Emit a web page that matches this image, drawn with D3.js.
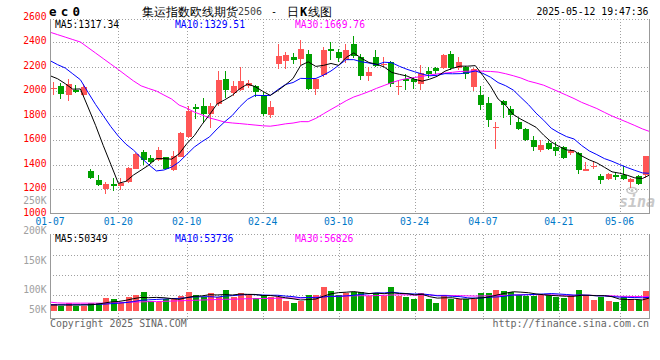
<!DOCTYPE html>
<html><head><meta charset="utf-8">
<script src="https://cdn.jsdelivr.net/npm/d3@7"></script>
<style>
html,body{margin:0;padding:0;background:#fff;}
svg{display:block;}
text{font-family:"DejaVu Sans Mono",monospace;}
</style></head><body>
<svg id="c" width="660" height="360"></svg>
<script>
const dates = ["01-07","01-08","01-09","01-10","01-13","01-14","01-15","01-16","01-17","01-20","01-21","01-22","01-23","01-24","01-27",
"02-05","02-06","02-07","02-10","02-11","02-12","02-13","02-14","02-17","02-18","02-19","02-20","02-21","02-24","02-25","02-26","02-27","02-28",
"03-03","03-04","03-05","03-06","03-07","03-10","03-11","03-12","03-13","03-14","03-17","03-18","03-19","03-20","03-21","03-24","03-25","03-26","03-27","03-28","03-31",
"04-01","04-02","04-03","04-07","04-08","04-09","04-10","04-11","04-14","04-15","04-16","04-17","04-18","04-21","04-22","04-23","04-24","04-25","04-28","04-29","04-30",
"05-06","05-07","05-08","05-09","05-12"];
const open = [2022,2043,1964,2010,1964,1344,1276,1203,1243,1222,1254,1366,1499,1453,1434,1459,1353,1459,1621,1869,1875,1815,1894,2097,1983,2005,2043,2037,1970,1807,2223,2242,2277,2261,2304,2016,2132,2340,2318,2250,2386,2277,2119,2277,2209,2237,2032,2097,2097,2056,2166,2188,2188,2302,2188,2196,2029,1970,1902,1695,1915,1856,1744,1689,1602,1521,1575,1545,1545,1494,1494,1344,1377,1303,1284,1317,1317,1254,1303,1317];
const high = [2070,2065,2100,2048,2057,1366,1311,1257,1289,1289,1377,1494,1521,1475,1543,1463,1513,1662,1880,1896,1942,1902,2160,2165,2078,2196,2092,2051,1989,1921,2386,2315,2310,2418,2332,2105,2359,2397,2345,2383,2445,2302,2196,2337,2277,2242,2078,2141,2113,2215,2196,2196,2302,2323,2277,2201,2188,2037,1948,1746,1929,1875,1780,1697,1635,1602,1589,1583,1554,1526,1499,1421,1418,1322,1327,1336,1385,1289,1311,1472];
const low = [1970,1937,1915,1981,1948,1284,1222,1159,1181,1194,1246,1364,1399,1412,1426,1361,1345,1459,1616,1772,1738,1697,1875,1943,1962,1997,2024,1951,1793,1780,2182,2180,2223,2215,2010,1964,2113,2256,2234,2228,2269,2092,2084,2196,2196,2032,1970,2005,2019,2010,2105,2141,2180,2174,2174,2100,1997,1848,1706,1529,1780,1719,1678,1589,1507,1502,1521,1467,1445,1480,1325,1344,1364,1243,1270,1276,1276,1208,1235,1289];
const close = [2027,1978,2056,1994,2029,1289,1230,1241,1222,1249,1372,1488,1440,1423,1521,1366,1467,1657,1834,1853,1815,1875,2092,2005,2037,2084,2065,1989,1815,1867,2283,2296,2250,2345,2016,2097,2337,2329,2269,2337,2283,2119,2154,2201,2223,2059,2043,2084,2070,2146,2141,2160,2291,2188,2234,2141,2182,1883,1761,1706,1883,1807,1692,1597,1540,1562,1529,1513,1451,1507,1352,1366,1391,1270,1322,1295,1284,1284,1243,1472];
const ma5 = [2125,2100,2060,2015,2016.8,1869.2,1719.6,1556.6,1402.2,1246.2,1262.8,1314.4,1354.2,1394.4,1448.8,1447.6,1443.4,1486.8,1569,1635.4,1725.2,1806.8,1893.8,1928,1964.8,2018.6,2056.6,2036,1998,1964,2003.8,2050,2102.2,2208.2,2238,2200.8,2209,2224.8,2209.6,2273.8,2311,2267.4,2232.4,2218.8,2196,2151.2,2136,2122,2095.8,2080.4,2096.8,2120.2,2161.6,2185.2,2202.8,2202.8,2207.2,2125.6,2040.2,1934.6,1883,1808,1769.8,1737,1703.8,1639.6,1584,1548.2,1519,1512.4,1470.4,1437.8,1413.4,1377.2,1340.2,1328.8,1312.4,1291,1285.6,1315.6];
const ma10 = [2248,2215,2188,2140,2092,1990,1890,1800,1710,1631.5,1566,1517,1455.4,1398.3,1347.5,1355.2,1378.9,1420.5,1481.7,1542.1,1586.4,1625.1,1690.3,1748.5,1800.1,1871.9,1931.7,1964.9,1963,1964.4,2011.2,2053.3,2069.1,2103.1,2101,2102.3,2129.5,2163.5,2208.9,2255.9,2255.9,2238.2,2228.6,2214.2,2234.9,2231.1,2201.7,2177.2,2157.3,2138.2,2124,2128.1,2141.8,2140.5,2141.6,2149.8,2163.7,2143.6,2112.7,2068.7,2042.9,2007.6,1947.7,1888.6,1819.2,1761.3,1696,1659,1628,1608.1,1555,1510.9,1480.8,1448.1,1426.3,1399.6,1375.1,1352.2,1331.4,1327.9];
const ma30 = [2480,2460,2440,2420,2400,2355,2310,2265,2220,2175,2128,2082,2042,2020,2000,1967,1935,1885,1860,1828,1805,1780,1764,1746,1739,1734,1728,1722,1716,1712.7,1721.2,1731.8,1738.3,1750,1749.5,1776.5,1813.4,1849.6,1884.5,1920.8,1951.2,1972.2,1996,2021.9,2045.3,2068.4,2087.6,2101.9,2109.7,2119.5,2130.4,2139.9,2146.5,2152.6,2159.2,2161.1,2165,2161.4,2159.6,2154.3,2140.9,2124.6,2106,2081.1,2065.2,2047.4,2020.5,1993.3,1966,1938.3,1907.3,1882.2,1856.8,1825.7,1795.7,1770.2,1744.9,1718.3,1690.7,1668.2];
// volume in thousands
const volume = [27,20,29,20,20,29,29,50,45,29,52,61,73,40,35,45,45,58,73,61,52,69,52,81,52,69,65,50,61,52,52,38,31,38,61,61,92,77,61,69,73,73,58,69,58,92,58,55,46,69,46,31,61,46,46,46,46,69,69,81,77,73,61,58,58,61,61,52,50,58,81,61,42,52,38,35,52,46,42,77];
const volMa5 = [23,23,23,23,23.2,23.6,25.4,29.6,34.6,36.4,41,47.4,52,51,52.2,50.8,47.6,44.6,51.2,56.4,57.8,62.6,61.4,63,61.2,64.6,63.8,63.4,59.4,59.4,56,50.6,46.8,42.2,44,45.8,56.6,65.8,70.4,72,74.4,70.6,66.8,68.4,66.2,70,67,66.4,61.8,64,54.8,49.4,50.6,50.6,46,46,49,50.6,55.2,62.2,68.4,73.8,72.2,70,65.4,62.2,59.8,58,56.4,56.4,60.4,60.4,58.4,58.8,54.8,45.6,43.8,44.6,42.6,50.4];
const volMa10 = [24,24,24,24,24,24,25,26,28,29.8,32.3,36.4,40.8,42.8,44.3,45.9,47.5,48.3,51.1,54.3,54.3,55.1,53,57.1,58.8,61.2,63.2,62.4,61.2,60.3,60.3,57.2,55.1,50.8,51.7,50.9,53.6,56.3,56.3,58,60.1,63.6,66.3,69.4,69.1,72.2,68.8,66.6,65.1,65.1,62.4,58.2,58.5,56.2,55,50.4,49.2,50.6,52.9,54.1,57.2,61.4,61.4,62.6,63.8,65.3,66.8,65.1,63.2,60.9,61.3,60.1,58.2,57.6,55.6,53,52.1,51.5,50.7,52.6];
const volMa30 = [34,31,30,30,30,30,30,30,31,32,33,34,35,36,36,37,38,39,40,41,42,43,44,45,45,46,47,47,48,48.1,49,49.6,49.6,50.2,51.6,52.7,54.8,55.7,56.2,57.5,58.2,58.6,58.1,59.1,59.9,61.4,61.9,61.8,60.9,61.1,60.9,59.7,60,58.8,58.6,57.8,57.2,57.8,58.1,59.1,59.9,61.1,62.1,62.7,62.6,62.6,61.6,60.8,60.4,60,60.3,59.9,59.4,58.8,58.1,56.2,56,55.7,55.6,55.9];
const priceTicks = [2600,2400,2200,2000,1800,1600,1400,1200,1000];
const priceGrid = [2400,2200,2000,1800,1600,1400,1200];
const dateTicks = ["01-07","01-20","02-10","02-24","03-10","03-24","04-07","04-21","05-06"];
const volTickValues = [250,200,150,100,50];
const volTickLabels = ["250K","200K","150K","100K","50K"];
const priceLegend = [["MA5:1317.34","#000"],["MA10:1329.51","#0000ff"],["MA30:1669.76","#ff00ff"]];
const volLegend = [["MA5:50349","#000"],["MA10:53736","#0000ff"],["MA30:56826","#ff00ff"]];
const titleText = "集运指数欧线期货";
const titleCode = "2506";
const timeText = "2025-05-12 19:47:36";

const RED = "#ff5555", GREEN = "#00a000", GRID = "#a0a0a0", BORDER = "#999";
const svg = d3.select("#c");
const xBand = d3.scaleBand().domain(dates).range([49, 649]);
const xPoint = d3.scalePoint().domain(dates).range([50, 650]);
const yP = d3.scaleLinear().domain([1000, 2600]).range([213.5, 17.5]);
const yV = d3.scaleLinear().domain([0, 100]).range([311, 284.9]);
const yVLab = d3.scaleLinear().domain([50,100,150,200,250]).range([309.7,289.7,260.7,230.7,200.7]);
const yVGrid = d3.scaleLinear().domain([0,4]).range([234.5, 315]);

const gGrid = svg.append("g").attr("shape-rendering","crispEdges");
// horizontal price grid
gGrid.selectAll(".hg").data(priceGrid).enter().append("line")
  .attr("x1",50).attr("x2",649).attr("y1",d=>Math.round(yP(d))+0.5).attr("y2",d=>Math.round(yP(d))+0.5)
  .attr("stroke",GRID).attr("stroke-dasharray","1,2");
// volume grid
gGrid.selectAll(".vg").data([1,2,3]).enter().append("line")
  .attr("x1",50).attr("x2",649).attr("y1",d=>Math.round(yVGrid(d))+0.5).attr("y2",d=>Math.round(yVGrid(d))+0.5)
  .attr("stroke",GRID).attr("stroke-dasharray","1,2");
// vertical grids
const vIdx = dateTicks.slice(1);
gGrid.selectAll(".vx").data(vIdx).enter().append("line")
  .attr("x1",d=>Math.round(xPoint(d))+0.5).attr("x2",d=>Math.round(xPoint(d))+0.5)
  .attr("y1",19).attr("y2",213).attr("stroke",GRID).attr("stroke-dasharray","1,2");
gGrid.selectAll(".vx2").data(vIdx).enter().append("line")
  .attr("x1",d=>Math.round(xPoint(d))+0.5).attr("x2",d=>Math.round(xPoint(d))+0.5)
  .attr("y1",235).attr("y2",321).attr("stroke",GRID).attr("stroke-dasharray","1,2");
// top dotted borders
gGrid.append("line").attr("x1",50).attr("x2",649).attr("y1",19.5).attr("y2",19.5).attr("stroke",GRID).attr("stroke-dasharray","1,2");
gGrid.append("line").attr("x1",50).attr("x2",649).attr("y1",234.5).attr("y2",234.5).attr("stroke",GRID).attr("stroke-dasharray","1,2");

// watermark
const wm = svg.append("g").attr("fill","#c8c8c8");
wm.append("ellipse").attr("cx",632).attr("cy",190.5).attr("rx",5).attr("ry",3).attr("fill","none").attr("stroke","#c8c8c8").attr("stroke-width",1.6);
wm.append("circle").attr("cx",632).attr("cy",190.5).attr("r",1.5);
wm.append("text").attr("x",619).attr("y",207).attr("font-family","Liberation Sans, Arial, sans-serif")
  .attr("font-style","italic").attr("font-weight","bold").attr("font-size",15).text("sina");

// candles
const gC = svg.append("g").attr("shape-rendering","crispEdges");
dates.forEach((d,i)=>{
  const up = close[i] >= open[i];
  const col = up ? RED : GREEN;
  const cx = Math.round(xBand(d) + xBand.bandwidth()/2);
  gC.append("line").attr("x1",cx+0.5).attr("x2",cx+0.5).attr("y1",yP(high[i])).attr("y2",yP(low[i])).attr("stroke",col);
  const top = yP(Math.max(open[i],close[i])), bot = yP(Math.min(open[i],close[i]));
  gC.append("rect").attr("x",cx-2).attr("width",6).attr("y",top).attr("height",Math.max(1,bot-top)).attr("fill",col);
  // volume bar
  gC.append("rect").attr("x",cx-2).attr("width",6).attr("y",yV(volume[i])).attr("height",yV(0)-yV(volume[i])).attr("fill",col);
});

// MA lines
const lineP = d3.line().x((d,i)=>xPoint(dates[i])).y(d=>yP(d));
const lineV = d3.line().x((d,i)=>xPoint(dates[i])).y(d=>yV(d));
const gL = svg.append("g").attr("fill","none").attr("stroke-width",1);
[[ma30,"#ff00ff"],[ma10,"#0000ff"],[ma5,"#000"]].forEach(([a,c])=>gL.append("path").attr("d",lineP(a)).attr("stroke",c));
[[volMa30,"#ff00ff"],[volMa10,"#0000ff"],[volMa5,"#000"]].forEach(([a,c])=>gL.append("path").attr("d",lineV(a)).attr("stroke",c));

// solid borders
const gB = svg.append("g").attr("stroke",BORDER).attr("shape-rendering","crispEdges");
gB.append("line").attr("x1",50.5).attr("x2",50.5).attr("y1",19).attr("y2",214);
gB.append("line").attr("x1",50).attr("x2",650).attr("y1",213.5).attr("y2",213.5);
gB.append("line").attr("x1",649.5).attr("x2",649.5).attr("y1",19).attr("y2",214);
gB.append("line").attr("x1",50.5).attr("x2",50.5).attr("y1",234).attr("y2",319);
gB.append("line").attr("x1",50).attr("x2",650).attr("y1",318.5).attr("y2",318.5);
gB.append("line").attr("x1",649.5).attr("x2",649.5).attr("y1",234).attr("y2",319);

// axis labels
svg.selectAll(".pl").data(priceTicks).enter().append("text")
  .attr("x",46.5).attr("y",d=>yP(d)+2).attr("text-anchor","end").attr("font-size",9.7).attr("fill","#f00").text(d=>d);
svg.selectAll(".vl").data(volTickValues).enter().append("text")
  .attr("x",46.5).attr("y",d=>yVLab(d)+3.5).attr("text-anchor","end").attr("font-size",9.7).attr("fill","#a0a0a0").text((d,i)=>volTickLabels[i]);
svg.selectAll(".dl").data(dateTicks).enter().append("text")
  .attr("x",d=>xPoint(d)).attr("y",225.3).attr("text-anchor","middle").attr("font-size",9.7).attr("fill","#0078c8").text(d=>d);

// legends
const legX = [55,175,295];
priceLegend.forEach(([t,c],i)=>svg.append("text").attr("x",legX[i]).attr("y",27.6).attr("font-size",9.7).attr("fill",c).text(t));
volLegend.forEach(([t,c],i)=>svg.append("text").attr("x",legX[i]).attr("y",241.9).attr("font-size",9.7).attr("fill",c).text(t));

// title row
svg.append("text").attr("x",49).attr("y",15.7).attr("font-size",12.5).attr("font-weight","bold").attr("letter-spacing",4.2).attr("fill","#000").text("ec0");
svg.append("text").attr("x",141.5).attr("y",15.6).attr("font-family","Noto Sans CJK SC").attr("font-size",12).attr("fill","#000").text(titleText);
svg.append("text").attr("x",238).attr("y",15.3).attr("font-size",10).attr("fill","#444").text(titleCode);
svg.append("text").attr("x",271).attr("y",15.3).attr("font-size",10).attr("fill","#000").text("-");
const t2 = svg.append("text").attr("x",287).attr("y",15.6).attr("font-family","Noto Sans CJK SC").attr("font-size",12).attr("fill","#000");
t2.append("tspan").text("日");
t2.append("tspan").attr("font-weight","bold").attr("dx",1).text("K");
t2.append("tspan").attr("dx",1).text("线图");
svg.append("text").attr("x",648.5).attr("y",15.3).attr("text-anchor","end").attr("font-size",9.8).attr("fill","#000").text(timeText);

// footer
svg.append("text").attr("x",50).attr("y",327.3).attr("font-size",9.9).attr("fill","#666").text("Copyright 2025 SINA.COM");
svg.append("text").attr("x",649).attr("y",327.3).attr("text-anchor","end").attr("font-size",10).attr("fill","#666").text("http://finance.sina.com.cn");
</script>
</body></html>
